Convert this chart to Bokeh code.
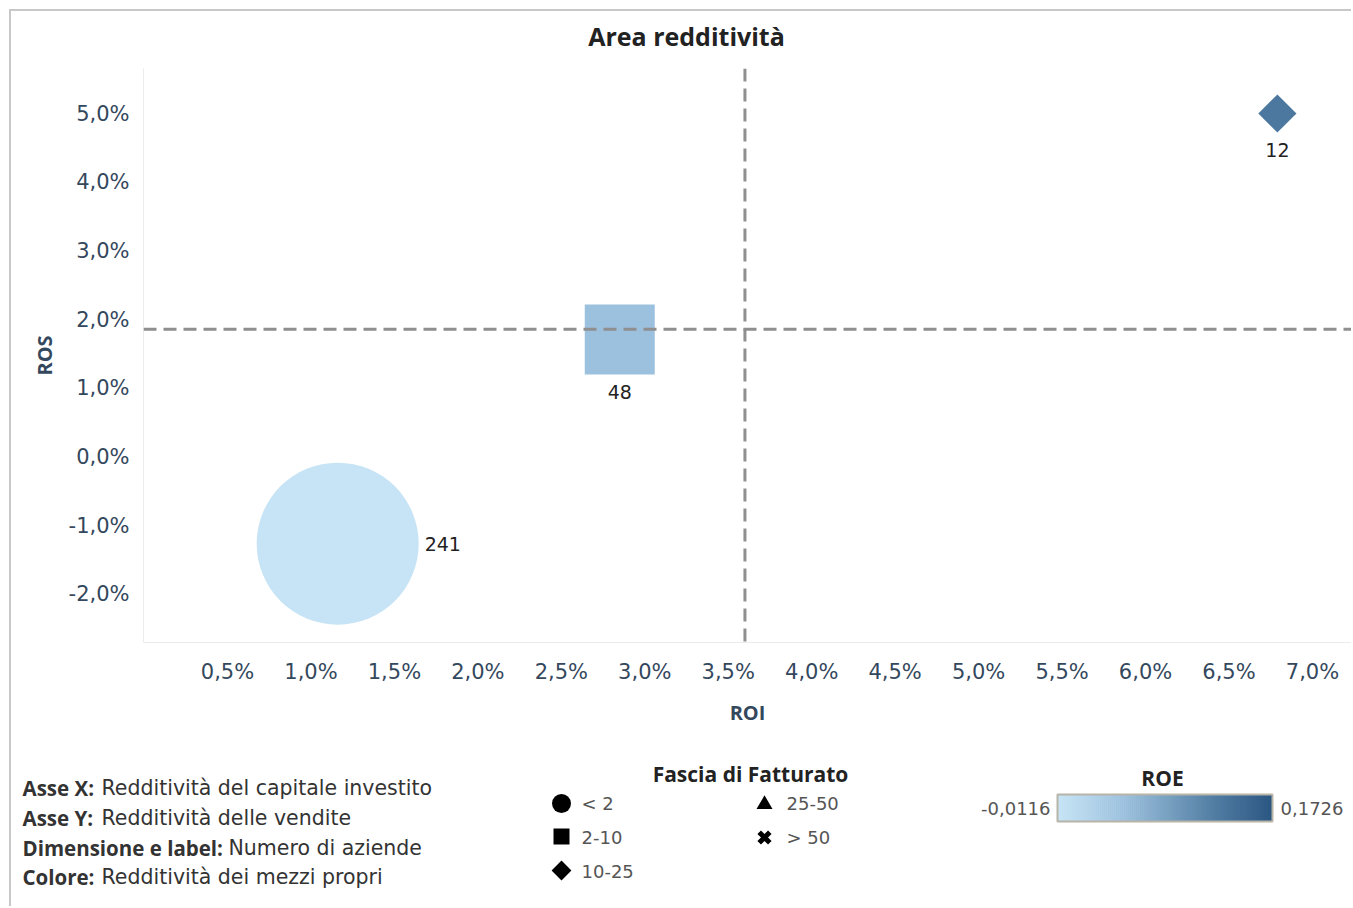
import math
import numpy as np
from bokeh.plotting import figure
from bokeh.models import ColumnDataSource, Range1d, FixedTicker, Span, LinearColorMapper
from bokeh.layouts import column
from bokeh.embed import file_html
from bokeh.resources import INLINE
from bokeh.core.properties import value

# ---------------- data ----------------
TITLE = "Area redditività"
X_LABEL = "ROI"
Y_LABEL = "ROS"

FASCIA = ["< 2", "2-10", "10-25"]
ROI = [1.16, 2.85, 6.79]          # %
ROS = [-1.26, 1.71, 5.00]         # %
N_AZIENDE = [241, 48, 12]
ROE = [-0.0116, 0.044, 0.130]
ROE_MIN, ROE_MAX = -0.0116, 0.1726
ROE_MIN_LABEL, ROE_MAX_LABEL = "-0,0116", "0,1726"
ROI_REF = 3.60                    # reference line ROI
ROS_REF = 1.86                    # reference line ROS

X_TICKS = [0.5, 1.0, 1.5, 2.0, 2.5, 3.0, 3.5, 4.0, 4.5, 5.0, 5.5, 6.0, 6.5, 7.0]
X_TICK_LABELS = ["0,5%", "1,0%", "1,5%", "2,0%", "2,5%", "3,0%", "3,5%",
                 "4,0%", "4,5%", "5,0%", "5,5%", "6,0%", "6,5%", "7,0%"]
Y_TICKS = [-2, -1, 0, 1, 2, 3, 4, 5]
Y_TICK_LABELS = ["-2,0%", "-1,0%", "0,0%", "1,0%", "2,0%", "3,0%", "4,0%", "5,0%"]

LEGEND_TITLE = "Fascia di Fatturato"
LEGEND_FASCE = ["< 2", "2-10", "10-25", "25-50", "> 50"]
COLOR_TITLE = "ROE"
NOTE_BOLD = ["Asse X:", "Asse Y:", "Dimensione e label:", "Colore:"]
NOTE_TEXT = ["Redditività del capitale investito", "Redditività delle vendite",
             "Numero di aziende", "Redditività dei mezzi propri"]

# ---------------- styles ----------------
FONT_B = "Open Sans"      # bold texts
FONT_R = "DejaVu Sans"    # regular texts
AXIS_TXT = "#34485d"
DARK = "#222222"
GREY = "#555555"
SHAPE = {"< 2": ("circle", 0.0), "2-10": ("square", 0.0), "10-25": ("square", math.pi / 4),
         "25-50": ("triangle", 0.0), "> 50": ("x", 0.0)}
MARK_PX = [162, 70, 27]
LBL_XOFF = [87, 0, 0]
LBL_YOFF = [0, 52, 36]
LBL_ALIGN = ["left", "center", "center"]

STOPS = [(0.0, (198, 228, 245)), (0.3, (156, 193, 222)), (0.75, (79, 123, 161)), (1.0, (43, 87, 131))]


def make_palette(n=256):
    out = []
    for i in range(n):
        t = i / (n - 1)
        for (t0, c0), (t1, c1) in zip(STOPS[:-1], STOPS[1:]):
            if t0 <= t <= t1:
                f = (t - t0) / (t1 - t0)
                rgb = [round(a + (b - a) * f) for a, b in zip(c0, c1)]
                out.append("#%02x%02x%02x" % tuple(rgb))
                break
    return out


PALETTE = make_palette()
mapper = LinearColorMapper(palette=PALETTE, low=ROE_MIN, high=ROE_MAX)

W = 1340
X0, X1 = 11, 11 + W


def strip(height, y_top, y_bot):
    f = figure(width=W, height=height, x_range=Range1d(X0, X1), y_range=Range1d(y_bot, y_top),
               x_axis_type=None, y_axis_type=None, output_backend="svg",
               toolbar_location=None, min_border=0, frame_align=False)
    f.outline_line_color = None
    f.grid.visible = False
    return f


# ---------------- title strip ----------------
pt = strip(57, 11, 68)
pt.text(x=[686], y=[35], text=[TITLE], text_align="center", text_baseline="middle",
        text_font=value(FONT_B), text_font_style="bold", text_font_size="25px", text_color=DARK)

# ---------------- main chart ----------------
p = figure(width=W, height=664, x_range=Range1d(-0.0033, 7.234), y_range=Range1d(-2.699, 5.655),
           output_backend="svg", toolbar_location=None, frame_align=False,
           min_border_left=132, min_border_right=0, min_border_top=0, min_border_bottom=90)
p.outline_line_color = None
p.grid.visible = False

p.xaxis.ticker = FixedTicker(ticks=X_TICKS)
p.xaxis.major_label_overrides = dict(zip(X_TICKS, X_TICK_LABELS))
p.yaxis.ticker = FixedTicker(ticks=Y_TICKS)
p.yaxis.major_label_overrides = dict(zip(Y_TICKS, Y_TICK_LABELS))
p.xaxis.axis_label = X_LABEL
p.yaxis.axis_label = Y_LABEL
for ax in (p.xaxis, p.yaxis):
    ax.axis_line_color = "#ececec"
    ax.major_tick_line_color = None
    ax.minor_tick_line_color = None
    ax.major_label_text_font = FONT_R
    ax.major_label_text_font_size = "21px"
    ax.major_label_text_color = AXIS_TXT
    ax.axis_label_text_font = FONT_B
    ax.axis_label_text_font_size = "20px"
    ax.axis_label_text_font_style = "bold"
    ax.axis_label_text_color = AXIS_TXT
p.xaxis.major_label_standoff = 11
p.xaxis.axis_label_standoff = 12
p.yaxis.major_label_standoff = 8
p.yaxis.axis_label_standoff = 8

src = ColumnDataSource(dict(
    roi=ROI, ros=ROS, roe=ROE, label=[str(n) for n in N_AZIENDE],
    marker=[SHAPE[f][0] for f in FASCIA], angle=[SHAPE[f][1] for f in FASCIA],
    size=MARK_PX, xo=LBL_XOFF, yo=LBL_YOFF, align=LBL_ALIGN,
))
p.scatter(x="roi", y="ros", marker="marker", size="size", angle="angle",
          fill_color={"field": "roe", "transform": mapper}, line_color=None, source=src)
p.text(x="roi", y="ros", text="label", x_offset="xo", y_offset="yo", text_align="align",
       text_baseline="middle", text_font=value(FONT_R), text_font_size="19px",
       text_color=DARK, source=src)

for loc, dim in ((ROI_REF, "height"), (ROS_REF, "width")):
    p.add_layout(Span(location=loc, dimension=dim, line_color="#8f8f8f",
                      line_width=3, line_dash="13 7"))

# ---------------- legend strip ----------------
pl = strip(174, 732, 906)

# notes
note_y = [787, 817, 847, 876]
note_x2 = [101, 101, 228, 101]
pl.text(x=[22] * 4, y=note_y, text=NOTE_BOLD, text_baseline="middle", text_font=value(FONT_B),
        text_font_style="bold", text_font_size="20.5px", text_color="#333333")
pl.text(x=note_x2, y=note_y, text=NOTE_TEXT, text_baseline="middle", text_font=value(FONT_R),
        text_font_size="20.5px", text_color="#333333")

# shape legend
pl.text(x=[750], y=[773], text=[LEGEND_TITLE], text_align="center", text_baseline="middle",
        text_font=value(FONT_B), text_font_style="bold", text_font_size="21px", text_color=DARK)
lx = [561, 561, 561, 764, 764]
ly = [803, 836, 870, 804, 837]
lsize = [19, 16, 14, 16, 15]
pl.scatter(x=lx, y=ly, marker=[SHAPE[f][0] for f in LEGEND_FASCE], size=lsize,
           angle=[SHAPE[f][1] for f in LEGEND_FASCE], fill_color="black", line_color="black",
           line_width=[0, 0, 0, 0, 5])
pl.text(x=[581, 581, 581, 786, 786], y=[803, 837, 871, 803, 837], text=LEGEND_FASCE,
        text_baseline="middle", text_font=value(FONT_R), text_font_size="18px", text_color=GREY)

# color legend
pl.text(x=[1162], y=[777], text=[COLOR_TITLE], text_align="center", text_baseline="middle",
        text_font=value(FONT_B), text_font_style="bold", text_font_size="21px", text_color=DARK)
bx0, bx1, by0, by1 = 1057, 1272, 794, 821
nseg = 108
edges = np.linspace(bx0, bx1, nseg + 1)
vals = np.linspace(ROE_MIN, ROE_MAX, nseg)
grad = ColumnDataSource(dict(l=edges[:-1], r=edges[1:] + 0.5, b=[by1] * nseg, t=[by0] * nseg, v=vals))
pl.quad(left="l", right="r", bottom="b", top="t",
        fill_color={"field": "v", "transform": mapper}, line_color=None, source=grad)
pl.quad(left=[bx0], right=[bx1], bottom=[by1], top=[by0], fill_color=None,
        line_color="#b8b4a8", line_width=2)
pl.text(x=[1050], y=[808], text=[ROE_MIN_LABEL], text_align="right", text_baseline="middle",
        text_font=value(FONT_R), text_font_size="18px", text_color=GREY)
pl.text(x=[1280], y=[808], text=[ROE_MAX_LABEL], text_align="left", text_baseline="middle",
        text_font=value(FONT_R), text_font_size="18px", text_color=GREY)

layout = column(pt, p, pl, styles={"margin": "9px 0 0 9px",
                                   "border-top": "2px solid #c8c8c8",
                                   "border-left": "2px solid #c8c8c8"})

open("out.html", "w").write(file_html(layout, INLINE))
